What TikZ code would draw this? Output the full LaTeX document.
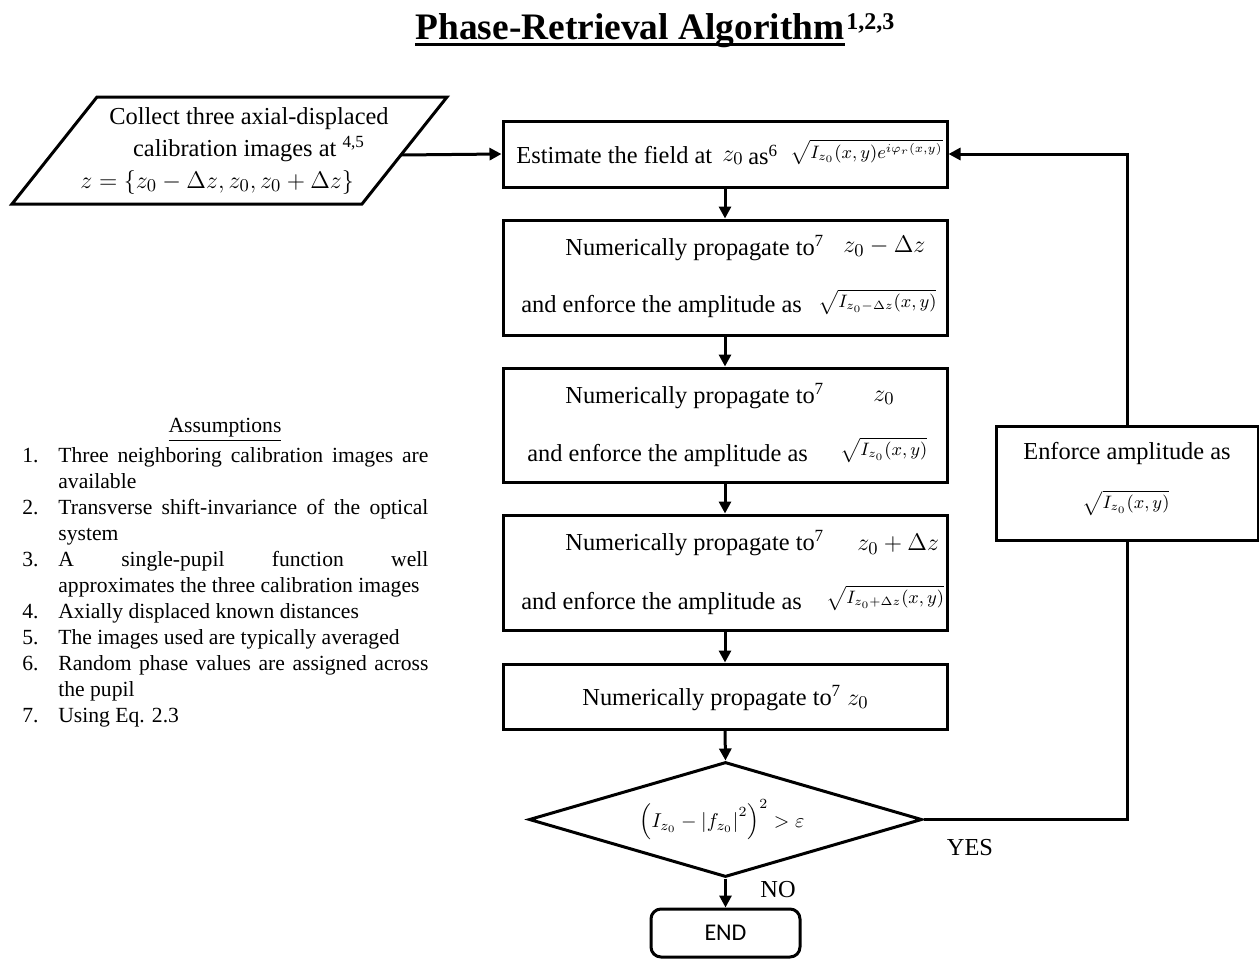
\documentclass[tikz,border=0pt]{standalone}
\usepackage{fontspec}
\setmainfont{Liberation Serif}
\newfontfamily\endfont{Carlito}
\usetikzlibrary{shapes.geometric,arrows.meta}
\newcommand\asitem[2]{\par\hangindent=18pt\hangafter=1\noindent\makebox[18pt][l]{#1}#2\par}
\begin{document}
\begin{tikzpicture}[x=0.5pt,y=-0.5pt,
  box/.style={draw, line width=1.5pt, minimum width=222pt, inner sep=0pt},
  ln/.style={line width=1.5pt},
  arr/.style={line width=1.5pt, -{Triangle[length=6pt,width=6pt]}},
  txt/.style={inner sep=0pt, font=\fontsize{12.2}{14}\selectfont},
  sq/.style={inner sep=0pt, font=\fontsize{9.2}{11}\selectfont}]
\useasboundingbox (0,0) rectangle (1259,959);
% title
\node[inner sep=0pt, font=\fontsize{18.7}{22}\selectfont\bfseries] (title) at (630,31) {Phase-Retrieval Algorithm};
\draw[line width=1.5pt] ([yshift=-2.5pt]title.base west) -- ([yshift=-2.5pt]title.base east);
\node[anchor=base west, inner sep=0pt, font=\fontsize{12}{14}\selectfont\bfseries] (tsup) at ([xshift=0.5pt,yshift=5pt]title.base east) {1,2,3};
% input parallelogram
\draw[ln] (97,97) -- (447,97) -- (362,204) -- (12,204) -- cycle;
\coordinate (pr) at (401,155);
\node[txt] (p1) at (249,119) {Collect three axial-displaced};
\node[txt] (p2) at (249,149) {calibration images at \textsuperscript{4,5}};
\node[txt, anchor=west] (p3) at (80,182) {$z=\{z_0-\Delta z, z_0, z_0+\Delta z\}$};
% boxes
\node[box, minimum height=33pt] (b1) at (725,154) {};
\node[box, minimum height=57.5pt] (b2) at (725,277.5) {};
\node[box, minimum height=57pt] (b3) at (725,425) {};
\node[box, minimum height=57.5pt] (b4) at (725,572.5) {};
\node[box, minimum height=32.5pt] (b5) at (725,696.5) {};
\node[draw, diamond, line width=1.5pt, minimum width=196.5pt, minimum height=57.5pt, inner sep=0pt] (dia) at (725.5,819.5) {};
\node[draw, rounded corners=5pt, line width=1.5pt, minimum width=74.5pt, minimum height=24pt, inner sep=0pt, font=\endfont\fontsize{12}{14}\selectfont] (end) at (725.5,933) {END};
\node[box, minimum width=131pt, minimum height=57pt] (enf) at (1127,483) {};
% box texts
\node[txt, anchor=west] (t1a) at (516,155) {Estimate the field at};
\node[txt, anchor=west] (t1b) at (722,158) {$z_0$};
\node[txt, anchor=west] (t1c) at (748,155) {as\textsuperscript{6}};
\node[sq, anchor=west] (t1d) at (790,152) {$\sqrt{I_{z_0}(x,y)e^{i\varphi_r(x,y)}}$};
\node[txt, anchor=west] (t2a) at (565,248) {Numerically propagate to\textsuperscript{7}};
\node[txt, anchor=west] (t2b) at (843,246) {$z_0-\Delta z$};
\node[txt, anchor=west] (t2c) at (521,307) {and enforce the amplitude as};
\node[sq, anchor=west] (t2d) at (818,302) {$\sqrt{I_{z_0-\Delta z}(x,y)}$};
\node[txt, anchor=west] (t3a) at (565,396) {Numerically propagate to\textsuperscript{7}};
\node[txt, anchor=west] (t3b) at (873,398) {$z_0$};
\node[txt, anchor=west] (t3c) at (527,456) {and enforce the amplitude as};
\node[sq, anchor=west] (t3d) at (840,450) {$\sqrt{I_{z_0}(x,y)}$};
\node[txt, anchor=west] (t4a) at (565,543) {Numerically propagate to\textsuperscript{7}};
\node[txt, anchor=west] (t4b) at (857,544) {$z_0+\Delta z$};
\node[txt, anchor=west] (t4c) at (521,603) {and enforce the amplitude as};
\node[sq, anchor=west] (t4d) at (826,598) {$\sqrt{I_{z_0+\Delta z}(x,y)}$};
\node[txt, anchor=west] (t5a) at (582,698) {Numerically propagate to\textsuperscript{7} $z_0$};
\node[txt] (te1) at (1127,454) {Enforce amplitude as};
\node[sq] (te2) at (1126,503) {$\sqrt{I_{z_0}(x,y)}$};
\node[inner sep=0pt, font=\fontsize{10}{12}\selectfont] (dt) at (722,820) {$\left(I_{z_0}-\left|f_{z_0}\right|^2\right)^2>\varepsilon$};
\node[txt] (yes) at (970,848) {YES};
\node[txt] (no) at (778,890) {NO};
% connectors
\draw[arr] (pr) -- (b1.west);
\draw[arr] (b1.south) -- (b2.north);
\draw[arr] (b2.south) -- (b3.north);
\draw[arr] (b3.south) -- (b4.north);
\draw[arr] (b4.south) -- (b5.north);
\draw[arr] (b5.south) -- (dia.north);
\draw[arr] (dia.south) -- (end.north);
\draw[ln] (dia.east) -| (enf.south);
\draw[arr] (enf.north) |- (b1.east);
% assumptions
\node[inner sep=0pt, font=\fontsize{10.8}{13}\selectfont] (asmt) at (225,430) {\underline{Assumptions}};
\node[anchor=north west, inner sep=0pt, text width=203pt, align=justify, font=\fontsize{10.8}{13}\selectfont] (asm) at (22,436) {\hyphenpenalty=10000\exhyphenpenalty=10000
\asitem{1.}{Three neighboring calibration images are\linebreak available}
\asitem{2.}{Transverse shift-invariance of the optical\linebreak system}
\asitem{3.}{A single-pupil function well\linebreak approximates the three calibration images}
\asitem{4.}{Axially displaced known distances}
\asitem{5.}{The images used are typically averaged}
\asitem{6.}{Random phase values are assigned across\linebreak the pupil}
\asitem{7.}{Using Eq. 2.3}};
\end{tikzpicture}
\end{document}
